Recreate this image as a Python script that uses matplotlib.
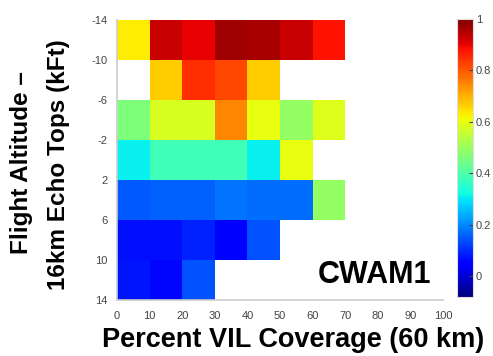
import numpy as np
import matplotlib
matplotlib.use("Agg")
import matplotlib.pyplot as plt
from matplotlib.colors import Normalize

plt.rcParams['font.family'] = ['Liberation Sans', 'DejaVu Sans']
plt.rcParams['axes.unicode_minus'] = False

nan = np.nan
# x bin edges (Percent VIL coverage) and y bin edges (flight altitude - echo tops, kFt)
x_edges = [0, 10, 20, 30, 40, 50, 60, 70]
y_edges = [-14, -10, -6, -2, 2, 6, 10, 14]

row_m14 = [0.63, 0.93, 0.90, 0.97, 0.96, 0.93, 0.88]
row_m10 = [nan, 0.67, 0.85, 0.82, 0.67, nan, nan]
row_m6 = [0.46, 0.58, 0.58, 0.75, 0.60, 0.49, 0.59]
row_m2 = [0.31, 0.38, 0.38, 0.38, 0.31, 0.60, nan]
row_p2 = [0.15, 0.16, 0.16, 0.18, 0.17, 0.17, 0.49]
row_p6 = [0.07, 0.07, 0.09, 0.05, 0.14, nan, nan]
row_p10 = [0.08, 0.06, 0.14, nan, nan, nan, nan]

x_ticks = [0, 10, 20, 30, 40, 50, 60, 70, 80, 90, 100]
y_ticks = [-14, -10, -6, -2, 2, 6, 10, 14]
cb_ticks = [0, 0.2, 0.4, 0.6, 0.8, 1]
cb_labels = ['0', '0.2', '0.4', '0.6', '0.8', '1']

data = np.ma.masked_invalid(np.array([row_m14, row_m10, row_m6, row_m2,
                                      row_p2, row_p6, row_p10]))

W, H = 493, 356
fig = plt.figure(figsize=(W / 100, H / 100), dpi=100)
ax = fig.add_axes([117 / W, 1 - 300 / H, (443 - 117) / W, (300 - 20) / H])
norm = Normalize(vmin=-0.08, vmax=1.0)
mesh = ax.pcolormesh(x_edges, y_edges, data, cmap='jet', norm=norm)
ax.set_xlim(0, 100)
ax.set_ylim(14, -14)
ax.set_xticks(x_ticks)
ax.set_yticks(y_ticks)
tick_color = '#444444'
ax.tick_params(length=0, labelsize=8, colors=tick_color, pad=8)
ax.tick_params(axis='y', pad=7)
for s in ['top', 'right']:
    ax.spines[s].set_visible(False)
for s in ['left', 'bottom']:
    ax.spines[s].set_color('#cccccc')
    ax.spines[s].set_linewidth(1.2)

cax = fig.add_axes([457 / W, 1 - 297 / H, 16 / W, (297 - 19) / H])
cb = fig.colorbar(mesh, cax=cax, ticks=cb_ticks)
cb.ax.set_yticklabels(cb_labels)
cb.ax.tick_params(labelsize=8, colors=tick_color, length=3, direction='in', pad=2)
cb.outline.set_edgecolor('#dddddd')

ax.text(0.79, 0.09, 'CWAM1', transform=ax.transAxes, ha='center', va='center',
        fontsize=22, fontweight='bold')

fig.text(293 / W, 1 - 340 / H, 'Percent VIL Coverage (60 km)', ha='center',
         va='center', fontsize=19.5, fontweight='bold')
fig.text(22 / W, 1 - 163 / H, 'Flight Altitude \u2013', ha='center', va='center',
         rotation=90, fontsize=17.5, fontweight='bold')
fig.text(58 / W, 1 - 165 / H, '16km Echo Tops (kFt)', ha='center', va='center',
         rotation=90, fontsize=17.5, fontweight='bold')

fig.savefig('out.png', dpi=100)
